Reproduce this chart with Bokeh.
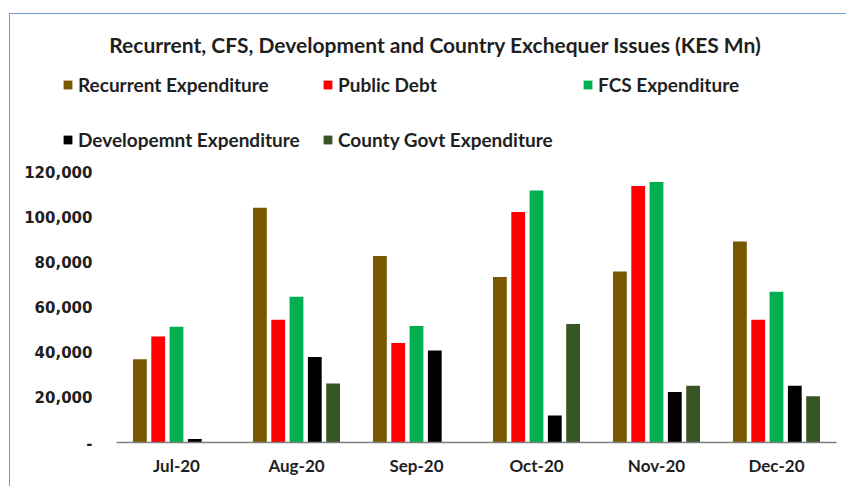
from bokeh.plotting import figure
from bokeh.models import (ColumnDataSource, Range1d, FixedTicker, Legend, LegendItem, Label)
from bokeh.transform import dodge
from bokeh.embed import file_html
from bokeh.resources import INLINE

# ---------------- data ----------------
months = ["Jul-20", "Aug-20", "Sep-20", "Oct-20", "Nov-20", "Dec-20"]
recurrent = [36900, 103900, 82600, 73300, 75700, 89000]
public_debt = [46900, 54300, 44100, 102100, 113600, 54300]
fcs = [51200, 64500, 51600, 111600, 115400, 66700]
development = [1600, 37900, 40700, 12000, 22400, 25100]
county = [0, 26100, 0, 52500, 25100, 20500]

series_names = ["Recurrent Expenditure", "Public Debt", "FCS Expenditure",
                "Developemnt Expenditure", "County Govt Expenditure"]
series_keys = ["recurrent", "public_debt", "fcs", "development", "county"]
series_colors = ["#7a5800", "#ff0000", "#00b050", "#000000", "#375623"]

y_ticks = [0, 20000, 40000, 60000, 80000, 100000, 120000]
y_tick_labels = ["-", "20,000", "40,000", "60,000", "80,000", "100,000", "120,000"]

title_text = "Recurrent, CFS, Development and Country Exchequer Issues (KES Mn)"

x_pos = [i + 0.5 for i in range(len(months))]
source = ColumnDataSource(dict(x=x_pos, month=months, recurrent=recurrent,
                               public_debt=public_debt, fcs=fcs,
                               development=development, county=county))

# ---------------- layout (absolute page pixels) ----------------
OX, OY, B = 9, 13, 1                # chart box top-left and border width
CX, CY = OX + B, OY + B             # canvas origin on the page
W, H = 847 - CX, 487 - CY
FRAME_L, FRAME_R, FRAME_T, FRAME_B = 40, 836, 20, 442
AXIS_X0 = 116                       # where the category axis starts
CAT_W = (FRAME_R - AXIS_X0) / len(months)
X_START = -(AXIS_X0 - FRAME_L) / CAT_W
Y_TOP = (FRAME_B - FRAME_T) / (FRAME_B - 171) * 120000

p = figure(x_range=Range1d(X_START, len(months)), y_range=Range1d(0, Y_TOP),
           width=W, height=H, output_backend="svg", toolbar_location=None,
           min_border_left=FRAME_L - CX, min_border_right=CX + W - FRAME_R,
           min_border_top=FRAME_T - CY, min_border_bottom=CY + H - FRAME_B,
           title=None)
p.margin = (OY, 0, 0, OX)
p.styles = {"border-top": f"{B}px solid #6f9bd1", "border-left": f"{B}px solid #6f9bd1"}
p.outline_line_color = None
p.xgrid.grid_line_color = None
p.ygrid.grid_line_color = None
p.background_fill_color = "white"
p.border_fill_color = "white"

pitch = 0.1525
bar_w = 0.115
renderers = []
for i, (key, col) in enumerate(zip(series_keys, series_colors)):
    r = p.vbar(x=dodge("x", (i - 2) * pitch), top=key, width=bar_w,
               source=source, fill_color=col, line_color=None)
    renderers.append(r)

# y axis (labels pushed to the right of the frame edge)
p.yaxis.ticker = FixedTicker(ticks=y_ticks)
p.yaxis.major_label_overrides = {t: l for t, l in zip(y_ticks, y_tick_labels)}
p.yaxis.axis_line_color = None
p.yaxis.major_tick_line_color = None
p.yaxis.minor_tick_line_color = None
p.yaxis.major_tick_out = 0
p.yaxis.major_tick_in = 0
p.yaxis.major_label_standoff = FRAME_L - 92
p.yaxis.major_label_text_font = "DejaVu Sans"
p.yaxis.major_label_text_font_style = "bold"
p.yaxis.major_label_text_font_size = "15px"
p.yaxis.major_label_text_color = "#1f1f1f"

# x axis
p.xaxis.ticker = FixedTicker(ticks=x_pos)
p.xaxis.major_label_overrides = {x: m for x, m in zip(x_pos, months)}
p.xaxis.bounds = (0, len(months))
p.xaxis.axis_line_color = "#7f7f7f"
p.xaxis.axis_line_width = 1.5
p.xaxis.major_tick_line_color = None
p.xaxis.minor_tick_line_color = None
p.xaxis.major_tick_out = 0
p.xaxis.major_tick_in = 0
p.xaxis.major_label_standoff = 12
p.xaxis.major_label_text_font = "Lato"
p.xaxis.major_label_text_font_style = "bold"
p.xaxis.major_label_text_font_size = "17px"
p.xaxis.major_label_text_color = "#1f1f1f"

# legend
items = [LegendItem(label=n, renderers=[r]) for n, r in zip(series_names, renderers)]
legend = Legend(items=items, orientation="horizontal", ncols=3,
                location=(62 - FRAME_L, FRAME_B - 167),
                glyph_width=11, glyph_height=11, label_standoff=5,
                label_width=244, label_height=55, spacing=0, padding=0, margin=0,
                border_line_color=None, background_fill_alpha=0,
                label_text_font="Lato", label_text_font_style="bold",
                label_text_font_size="19px", label_text_color="#1f1f1f")
p.add_layout(legend, "center")

# title
p.add_layout(Label(x=435 - FRAME_L, y=FRAME_B - 44, x_units="screen", y_units="screen",
                   text=title_text, text_align="center", text_baseline="middle",
                   text_font="Lato", text_font_style="bold", text_font_size="21px",
                   text_color="#1f1f1f"))

open("out.html", "w").write(file_html(p, INLINE))
